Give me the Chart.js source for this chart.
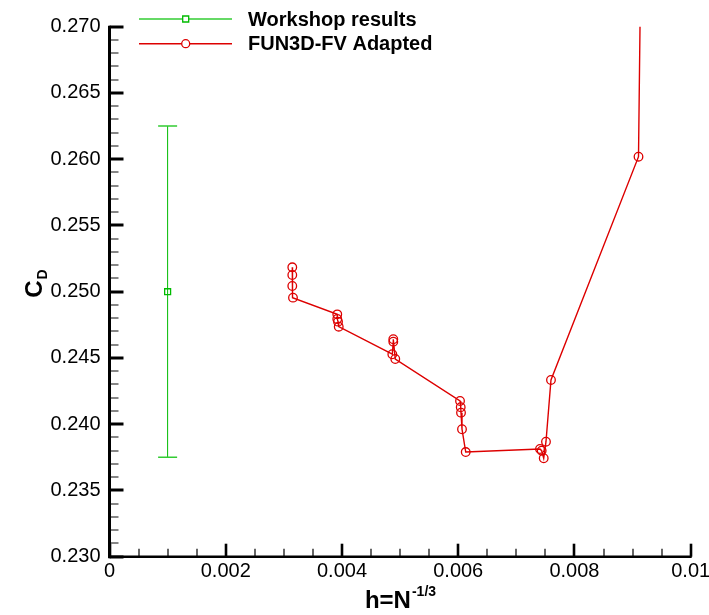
<!DOCTYPE html>
<html>
<head>
<meta charset="utf-8">
<title>Drag coefficient convergence</title>
<script src="https://cdn.jsdelivr.net/npm/chart.js@4/dist/chart.umd.min.js"></script>
<style>
  html, body { margin: 0; padding: 0; background: #fff; }
  #wrap { width: 709px; height: 615px; }
</style>
</head>
<body>
<div id="wrap"><canvas id="cdChart" width="709" height="615"></canvas></div>
<script>
// grid spacing h = N^-1/3 and drag coefficient for the adapted runs
const hValues = [
    0.003145, 0.003145, 0.003145, 0.003157,
    0.003919, 0.003919, 0.003932, 0.003944,
    0.004866, 0.004883, 0.004883, 0.004917,
    0.006031, 0.006043, 0.006048, 0.006065, 0.006129,
    0.007407, 0.007436, 0.007471, 0.007510, 0.007596,
    0.009102, 0.009154
];
const cdValues = [
    0.25184, 0.25126, 0.25043, 0.24955,
    0.24829, 0.24794, 0.24774, 0.24736,
    0.24528, 0.24623, 0.24641, 0.24492,
    0.24175, 0.24128, 0.24087, 0.23962, 0.23790,
    0.23813, 0.23800, 0.23743, 0.23868, 0.24334,
    0.26019, 0.28000
];

// workshop spread: mean with low/high range
const workshopH = [0.001];
const workshopCd = [0.250];
const workshopLow = [0.2375];
const workshopHigh = [0.2625];

const seriesLabels = ['Workshop results', 'FUN3D-FV Adapted'];
const xTickLabels = ['0', '0.002', '0.004', '0.006', '0.008', '0.01'];
const yTickLabels = ['0.230', '0.235', '0.240', '0.245', '0.250', '0.255', '0.260', '0.265', '0.270'];

const GREEN = '#00bb00';
const GREEN_LINE = '#33cc33';
const RED = '#dd0000';
const FONT = '"Liberation Sans", Arial, Helvetica, sans-serif';

// range bar behind the workshop marker
const errorBarPlugin = {
    id: 'errorBars',
    beforeDatasetsDraw(chart) {
        const ctx = chart.ctx;
        const xs = chart.scales.x, ys = chart.scales.y;
        ctx.save();
        workshopH.forEach((h, i) => {
            const px = xs.getPixelForValue(h);
            const top = ys.getPixelForValue(workshopHigh[i]);
            const bot = ys.getPixelForValue(workshopLow[i]);
            ctx.strokeStyle = GREEN;
            ctx.lineWidth = 1;
            ctx.beginPath();
            ctx.moveTo(px, top);
            ctx.lineTo(px, bot);
            ctx.stroke();
            ctx.strokeStyle = GREEN_LINE;
            ctx.lineWidth = 1.5;
            ctx.beginPath();
            ctx.moveTo(px - 9.5, top);
            ctx.lineTo(px + 9.5, top);
            ctx.moveTo(px - 9.5, bot);
            ctx.lineTo(px + 9.5, bot);
            ctx.stroke();
        });
        ctx.restore();
    }
};

// axis lines with inward major/minor ticks
const axisPlugin = {
    id: 'axisFrame',
    afterDraw(chart) {
        const ctx = chart.ctx;
        const a = chart.chartArea;
        const xs = chart.scales.x, ys = chart.scales.y;
        ctx.save();
        ctx.lineCap = 'butt';

        // y ticks
        for (let i = 0; i <= 40; i++) {
            const v = 0.230 + i * 0.001;
            const py = Math.round(ys.getPixelForValue(v));
            const major = i % 5 === 0;
            ctx.strokeStyle = major ? '#000' : '#444';
            ctx.lineWidth = major ? 3 : 1.3;
            ctx.beginPath();
            ctx.moveTo(a.left, py);
            ctx.lineTo(a.left + (major ? 14 : 9), py);
            ctx.stroke();
        }
        // x ticks
        for (let i = 0; i <= 20; i++) {
            const v = i * 0.0005;
            const px = Math.round(xs.getPixelForValue(v));
            const major = i % 4 === 0;
            ctx.strokeStyle = '#000';
            ctx.lineWidth = major ? 2.6 : 1.2;
            ctx.beginPath();
            ctx.moveTo(px, a.bottom);
            ctx.lineTo(px, a.bottom - (major ? 13 : 8));
            ctx.stroke();
        }
        // axis lines
        ctx.strokeStyle = '#000';
        ctx.lineWidth = 3;
        ctx.beginPath();
        ctx.moveTo(a.left, a.top - 1);
        ctx.lineTo(a.left, a.bottom + 1.5);
        ctx.stroke();
        ctx.lineWidth = 2.6;
        ctx.beginPath();
        ctx.moveTo(a.left - 1.5, a.bottom);
        ctx.lineTo(a.right + 1, a.bottom);
        ctx.stroke();

        // axis titles
        ctx.fillStyle = '#000';
        ctx.textBaseline = 'alphabetic';
        ctx.textAlign = 'left';
        const big = 'bold 24px ' + FONT;
        const small = 'bold 14px ' + FONT;
        ctx.font = big;
        const wMain = ctx.measureText('h=N').width;
        ctx.font = small;
        const wSup = ctx.measureText('-1/3').width;
        const xStart = 400 - (wMain + wSup) / 2;
        ctx.font = big;
        ctx.fillText('h=N', xStart, 607.5);
        ctx.font = small;
        ctx.fillText('-1/3', xStart + wMain + 1, 596);

        ctx.save();
        ctx.translate(42, 284);
        ctx.rotate(-Math.PI / 2);
        ctx.font = big;
        const wC = ctx.measureText('C').width;
        ctx.font = small;
        const wD = ctx.measureText('D').width;
        const s = -(wC + wD) / 2;
        ctx.font = big;
        ctx.fillText('C', s, 0);
        ctx.font = small;
        ctx.fillText('D', s + wC + 1, 5);
        ctx.restore();

        ctx.restore();
    }
};

// legend in the top-left corner of the plot
const legendPlugin = {
    id: 'cornerLegend',
    afterDraw(chart) {
        const ctx = chart.ctx;
        const rows = [
            { y: 19, color: GREEN_LINE, mark: GREEN, style: 'rect' },
            { y: 43.7, color: RED, mark: RED, style: 'circle' }
        ];
        ctx.save();
        rows.forEach((r, i) => {
            ctx.strokeStyle = r.color;
            ctx.lineWidth = 1.6;
            ctx.beginPath();
            ctx.moveTo(139, r.y);
            ctx.lineTo(232, r.y);
            ctx.stroke();
            ctx.strokeStyle = r.mark;
            ctx.fillStyle = '#fff';
            ctx.lineWidth = 1.3;
            ctx.beginPath();
            if (r.style === 'rect') {
                ctx.rect(185.7 - 3, r.y - 3, 6, 6);
            } else {
                ctx.arc(185.7, r.y, 4, 0, Math.PI * 2);
            }
            ctx.fill();
            ctx.stroke();
            ctx.fillStyle = '#000';
            ctx.font = 'bold 20px ' + FONT;
            ctx.textBaseline = 'middle';
            ctx.textAlign = 'left';
            ctx.fillText(seriesLabels[i], 248, r.y + 1);
        });
        ctx.restore();
    }
};

const fun3dPoints = hValues.map((h, i) => ({ x: h, y: cdValues[i] }));
const workshopPoints = workshopH.map((h, i) => ({ x: h, y: workshopCd[i] }));

new Chart(document.getElementById('cdChart'), {
    type: 'scatter',
    data: {
        datasets: [
            {
                label: seriesLabels[0],
                data: workshopPoints,
                pointStyle: 'rect',
                pointRadius: 4.2,
                pointBorderWidth: 1.3,
                pointBorderColor: GREEN,
                pointBackgroundColor: 'rgba(0,0,0,0)',
                showLine: false
            },
            {
                label: seriesLabels[1],
                data: fun3dPoints,
                showLine: true,
                borderColor: RED,
                borderWidth: 1.4,
                pointStyle: 'circle',
                pointRadius: 4.3,
                pointBorderWidth: 1.3,
                pointBorderColor: RED,
                pointBackgroundColor: 'rgba(0,0,0,0)',
                clip: 0
            }
        ]
    },
    options: {
        responsive: false,
        animation: false,
        layout: { padding: { top: 26.7, right: 18.3, left: 0, bottom: 0 } },
        plugins: {
            legend: { display: false },
            tooltip: { enabled: false }
        },
        scales: {
            x: {
                type: 'linear',
                min: 0,
                max: 0.01,
                grid: { display: false, drawTicks: false },
                border: { display: false },
                ticks: {
                    stepSize: 0.002,
                    padding: 3,
                    color: '#000',
                    maxRotation: 0,
                    font: { family: FONT, size: 20 },
                    callback: (v, i) => xTickLabels[i]
                },
                afterFit: s => { s.height = 58.3; s.paddingLeft = 0; s.paddingRight = 0; }
            },
            y: {
                type: 'linear',
                min: 0.230,
                max: 0.270,
                grid: { display: false, drawTicks: false },
                border: { display: false },
                ticks: {
                    stepSize: 0.005,
                    padding: 9,
                    color: '#000',
                    font: { family: FONT, size: 20 },
                    callback: (v, i) => yTickLabels[i]
                },
                afterFit: s => { s.width = 109.5; s.paddingTop = 0; s.paddingBottom = 0; }
            }
        }
    },
    plugins: [errorBarPlugin, axisPlugin, legendPlugin]
});
</script>
</body>
</html>
